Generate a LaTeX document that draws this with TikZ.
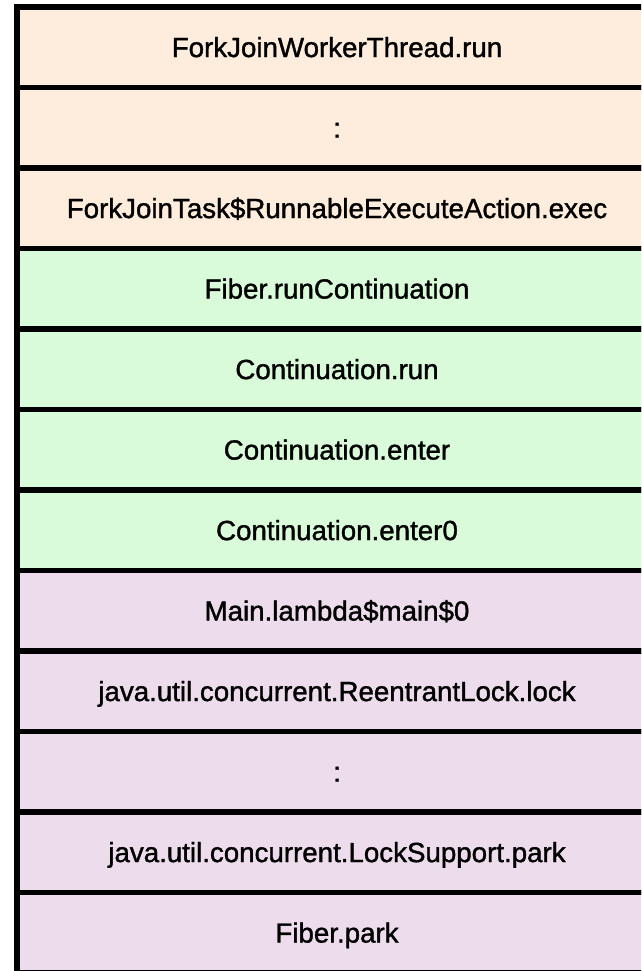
\documentclass[tikz,border=0pt]{standalone}
\usepackage{fontspec}
\setmainfont{Liberation Sans}
\newfontfamily\framefont[FakeBold=1.3]{Liberation Sans}
\definecolor{carrier}{HTML}{FEEDDC}
\definecolor{contframe}{HTML}{DAFBD9}
\definecolor{userframe}{HTML}{EDDCEC}
\tikzset{
  frame/.style={draw=black, line width=5.5pt, minimum width=640pt, minimum height=80.5pt,
    inner sep=0pt, outer sep=0pt, anchor=north west, text height=19.6pt, text depth=0pt,
    font=\framefont\fontsize{27.7}{32}\selectfont},
  carrierframe/.style={frame, fill=carrier},
  continuationframe/.style={frame, fill=contframe},
  mainframe/.style={frame, fill=userframe}
}
\begin{document}
\begin{tikzpicture}[x=1pt, y=-1pt]
  \useasboundingbox (0,0) rectangle (641,971);
  \clip (0,0) rectangle (641,971);
  % carrier thread frames
  \node[carrierframe] (f1) at (17,7) {ForkJoinWorkerThread.run};
  \node[carrierframe] (f2) at (17,87.5) {:};
  \node[carrierframe] (f3) at (17,168) {ForkJoinTask\$RunnableExecuteAction.exec};
  % continuation machinery
  \node[continuationframe] (f4) at (17,248.5) {Fiber.runContinuation};
  \node[continuationframe] (f5) at (17,329) {Continuation.run};
  \node[continuationframe] (f6) at (17,409.5) {Continuation.enter};
  \node[continuationframe] (f7) at (17,490) {Continuation.enter0};
  % fiber frames
  \node[mainframe] (f8) at (17,570.5) {Main.lambda\$main\$0};
  \node[mainframe] (f9) at (17,651) {java.util.concurrent.ReentrantLock.lock};
  \node[mainframe] (f10) at (17,731.5) {:};
  \node[mainframe] (f11) at (17,812) {java.util.concurrent.LockSupport.park};
  \node[mainframe] (f12) at (17,892.5) {Fiber.park};
\end{tikzpicture}
\end{document}
